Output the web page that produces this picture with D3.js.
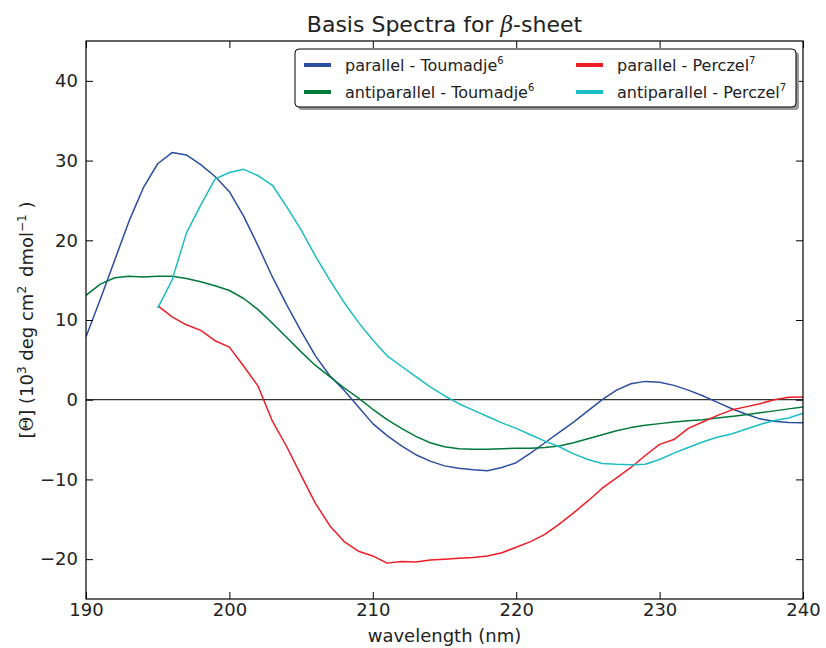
<!DOCTYPE html>
<html>
<head>
<meta charset="utf-8">
<script src="https://cdn.jsdelivr.net/npm/d3@7"></script>
<style>
  html, body { margin: 0; padding: 0; background: #fff; }
  svg { display: block; }
  text { font-family: "DejaVu Sans", sans-serif; fill: #222; }
</style>
</head>
<body>
<svg id="chart" width="826" height="648"></svg>
<script>
// Wavelength grids (nm)
const wlToumadje = d3.range(190, 241);
const wlPerczel = d3.range(195, 241);

// Mean residue ellipticity, 10^3 deg cm^2 dmol^-1
const parallelToumadje = [
  7.9, 12.6, 17.5, 22.4, 26.6, 29.6, 31.0, 30.7, 29.5, 28.0,
  26.1, 23.0, 19.3, 15.4, 11.9, 8.6, 5.5, 3.0, 1.2, -0.9,
  -3.0, -4.5, -5.8, -6.9, -7.7, -8.3, -8.6, -8.8, -8.9, -8.5,
  -7.9, -6.7, -5.4, -4.1, -2.8, -1.4, 0.0, 1.2, 2.0, 2.3,
  2.2, 1.8, 1.2, 0.5, -0.3, -1.1, -1.8, -2.4, -2.7, -2.85,
  -2.9
];
const antiparallelToumadje = [
  13.1, 14.5, 15.3, 15.5, 15.4, 15.5, 15.5, 15.2, 14.8, 14.3,
  13.7, 12.7, 11.3, 9.6, 7.8, 6.0, 4.3, 2.9, 1.5, 0.2,
  -1.2, -2.5, -3.6, -4.6, -5.4, -5.9, -6.15, -6.2, -6.2, -6.15,
  -6.1, -6.1, -6.0, -5.8, -5.4, -4.9, -4.4, -3.9, -3.5, -3.2,
  -3.0, -2.8, -2.65, -2.5, -2.3, -2.1, -1.9, -1.65, -1.4, -1.15,
  -0.9
];
const parallelPerczel = [
  11.8, 10.4, 9.4, 8.7, 7.4, 6.6, 4.2, 1.7, -2.7, -5.9,
  -9.5, -13.0, -15.8, -17.8, -19.0, -19.6, -20.5, -20.3, -20.35, -20.1,
  -20.0, -19.9, -19.8, -19.6, -19.2, -18.5, -17.8, -16.9, -15.6, -14.2,
  -12.7, -11.1, -9.8, -8.5, -7.0, -5.6, -5.0, -3.6, -2.8, -2.0,
  -1.3, -0.9, -0.5, 0.0, 0.3, 0.35
];
const antiparallelPerczel = [
  11.5, 15.0, 20.9, 24.4, 27.7, 28.5, 28.9, 28.1, 26.9, 24.2,
  21.3, 18.0, 15.0, 12.2, 9.7, 7.5, 5.5, 4.2, 2.9, 1.6,
  0.5, -0.5, -1.3, -2.1, -2.9, -3.6, -4.4, -5.2, -5.9, -6.8,
  -7.5, -8.0, -8.1, -8.15, -8.1, -7.5, -6.7, -6.0, -5.3, -4.7,
  -4.3, -3.7, -3.1, -2.6, -2.3, -1.7
];

const xTicks = [190, 200, 210, 220, 230, 240];
const yTicks = [-20, -10, 0, 10, 20, 30, 40];

const seriesNames = ["parallel - Toumadje", "antiparallel - Toumadje", "parallel - Perczel", "antiparallel - Perczel"];
const seriesRefs = ["6", "6", "7", "7"];
const seriesColors = ["#2c4e9e", "#00793b", "#ee1d25", "#1abdc3"];

const series = [
  { x: wlToumadje, y: parallelToumadje },
  { x: wlToumadje, y: antiparallelToumadje },
  { x: wlPerczel, y: parallelPerczel },
  { x: wlPerczel, y: antiparallelPerczel }
].map((s, i) => ({
  name: seriesNames[i], ref: seriesRefs[i], color: seriesColors[i],
  points: s.x.map((w, j) => [w, s.y[j]])
}));

const svg = d3.select("#chart");
const margin = { left: 86, right: 23, top: 41, bottom: 49 };
const W = 826, H = 648;
const x = d3.scaleLinear().domain([190, 240]).range([margin.left, W - margin.right]);
const y = d3.scaleLinear().domain([-25, 45]).range([H - margin.bottom, margin.top]);

const fmt = d => (d < 0 ? "\u2212" + Math.abs(d) : String(d));

// clip region for the curves
svg.append("clipPath").attr("id", "plotclip").append("rect")
  .attr("x", x(190)).attr("y", y(45)).attr("width", x(240) - x(190)).attr("height", y(-25) - y(45));

// zero line
svg.append("line")
  .attr("x1", x(190)).attr("x2", x(240)).attr("y1", y(0)).attr("y2", y(0))
  .attr("stroke", "#000").attr("stroke-width", 1);

const line = d3.line().x(d => x(d[0])).y(d => y(d[1]));
const curves = svg.append("g").attr("clip-path", "url(#plotclip)");
curves.selectAll("path").data(series).join("path")
  .attr("d", d => line(d.points))
  .attr("fill", "none")
  .attr("stroke", d => d.color)
  .attr("stroke-width", 1.5)
  .attr("stroke-linejoin", "round");

// axes, ticks pointing inward on all sides
const tickLen = 7;
const axBottom = d3.axisBottom(x).tickValues(xTicks).tickSizeInner(-tickLen).tickSizeOuter(0).tickPadding(4).tickFormat(fmt);
const axTop = d3.axisTop(x).tickValues(xTicks).tickSizeInner(-tickLen).tickSizeOuter(0).tickFormat("");
const axLeft = d3.axisLeft(y).tickValues(yTicks).tickSizeInner(-tickLen).tickSizeOuter(0).tickPadding(8).tickFormat(fmt);
const axRight = d3.axisRight(y).tickValues(yTicks).tickSizeInner(-tickLen).tickSizeOuter(0).tickFormat("");

function styleAxis(g) {
  g.select(".domain").remove();
  g.selectAll(".tick line").attr("stroke", "#000").attr("stroke-width", 1);
  g.selectAll(".tick text").attr("font-size", 18).attr("fill", "#222")
    .attr("font-family", "'DejaVu Sans', sans-serif");
}
svg.append("g").attr("transform", `translate(0,${y(-25)})`).call(axBottom).call(styleAxis);
svg.append("g").attr("transform", `translate(0,${y(45)})`).call(axTop).call(styleAxis);
svg.append("g").attr("transform", `translate(${x(190)},0)`).call(axLeft).call(styleAxis);
svg.append("g").attr("transform", `translate(${x(240)},0)`).call(axRight).call(styleAxis);

// frame
svg.append("rect")
  .attr("x", x(190)).attr("y", y(45)).attr("width", x(240) - x(190)).attr("height", y(-25) - y(45))
  .attr("fill", "none").attr("stroke", "#000").attr("stroke-width", 1.2);

// title
const title = svg.append("text")
  .attr("x", (x(190) + x(240)) / 2).attr("y", 32)
  .attr("text-anchor", "middle").attr("font-size", 22);
title.append("tspan").text("Basis Spectra for ");
title.append("tspan").attr("font-style", "italic").attr("font-family", "'DejaVu Serif', serif").text("\u03B2");
title.append("tspan").text("-sheet");

// x label
svg.append("text")
  .attr("x", (x(190) + x(240)) / 2).attr("y", 642)
  .attr("text-anchor", "middle").attr("font-size", 18)
  .text("wavelength (nm)");

// y label
const yl = svg.append("text")
  .attr("transform", `translate(33,${(y(45) + y(-25)) / 2}) rotate(-90)`)
  .attr("text-anchor", "middle").attr("font-size", 18);
yl.append("tspan").text("[");
yl.append("tspan").attr("font-family", "'DejaVu Serif', serif").text("\u0398");
yl.append("tspan").text("] (10");
yl.append("tspan").attr("font-size", 12).attr("dy", -7).text("3");
yl.append("tspan").attr("dy", 7).text(" deg cm");
yl.append("tspan").attr("font-size", 12).attr("dy", -7).text("2");
yl.append("tspan").attr("dy", 7).text("\u2002dmol");
yl.append("tspan").attr("font-size", 12).attr("dy", -7).text("\u22121");
yl.append("tspan").attr("dy", 7).text(" )");

// legend
const lg = svg.append("g");
const lgX = 295, lgY = 49, lgW = 501, lgH = 58;
lg.append("rect").attr("x", lgX + 3).attr("y", lgY + 3).attr("width", lgW).attr("height", lgH)
  .attr("rx", 4).attr("fill", "#999");
lg.append("rect").attr("x", lgX).attr("y", lgY).attr("width", lgW).attr("height", lgH)
  .attr("rx", 4).attr("fill", "#fff").attr("stroke", "#000").attr("stroke-width", 1);

const colX = [304, 576];
const rowY = [65, 92];
const order = [[0, 0, 0], [1, 0, 1], [2, 1, 0], [3, 1, 1]];
order.forEach(([i, c, r]) => {
  const s = series[i];
  const item = lg.append("g");
  item.append("line")
    .attr("x1", colX[c]).attr("x2", colX[c] + 27)
    .attr("y1", rowY[r]).attr("y2", rowY[r])
    .attr("stroke", s.color).attr("stroke-width", 4);
  const t = item.append("text")
    .attr("x", colX[c] + 41).attr("y", rowY[r] + 5.5)
    .attr("font-size", 16);
  t.append("tspan").text(s.name);
  t.append("tspan").attr("font-size", 10).attr("dy", -7).text(s.ref);
});
</script>
</body>
</html>
